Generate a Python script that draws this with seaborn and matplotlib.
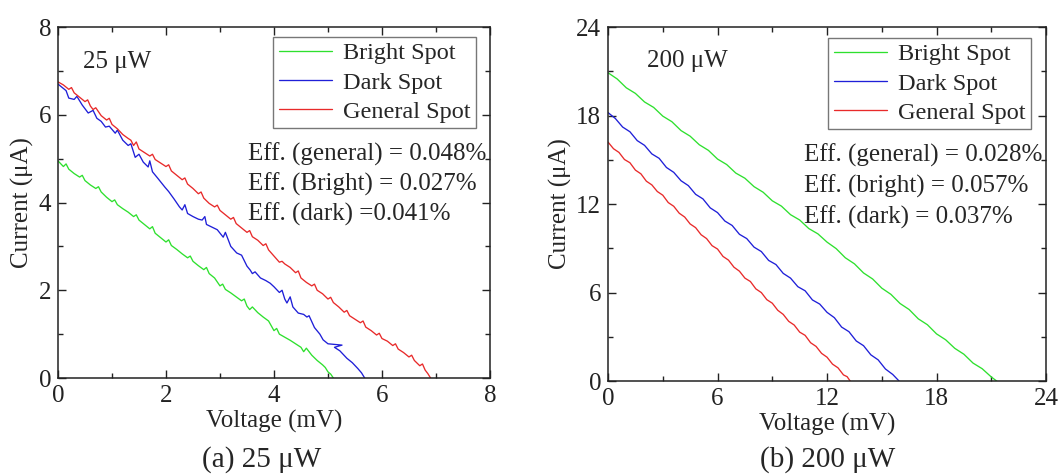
import matplotlib
matplotlib.use("Agg")
import matplotlib.pyplot as plt
import seaborn as sns
import pandas as pd
from matplotlib.ticker import MultipleLocator

# ---------------- data: panel (a) 25 uW ----------------
a_bright_v = [0.00, 0.10, 0.15, 0.20, 0.30, 0.40, 0.45, 0.50, 0.60, 0.70, 0.75, 0.80, 0.90, 1.00,
              1.05, 1.10, 1.20, 1.30, 1.40, 1.45, 1.50, 1.60, 1.70, 1.75, 1.80, 1.90, 2.00, 2.05,
              2.10, 2.20, 2.30, 2.40, 2.45, 2.50, 2.60, 2.70, 2.75, 2.80, 2.90, 3.00, 3.05, 3.10,
              3.20, 3.30, 3.40, 3.45, 3.50, 3.55, 3.60, 3.70, 3.80, 3.90, 4.00, 4.05, 4.10, 4.20,
              4.30, 4.40, 4.50, 4.55, 4.60, 4.70, 4.80, 4.90, 4.95, 5.00, 5.05, 5.10]
a_bright_i = [4.95, 4.82, 4.88, 4.76, 4.66, 4.58, 4.62, 4.50, 4.40, 4.32, 4.36, 4.24, 4.12, 4.02,
              4.06, 3.95, 3.86, 3.78, 3.68, 3.72, 3.60, 3.50, 3.40, 3.45, 3.30, 3.20, 3.10, 3.15,
              3.02, 2.93, 2.83, 2.74, 2.78, 2.66, 2.56, 2.47, 2.52, 2.38, 2.28, 2.10, 2.14, 2.02,
              1.94, 1.85, 1.76, 1.80, 1.64, 1.56, 1.62, 1.49, 1.39, 1.30, 1.08, 1.13, 1.00, 0.93,
              0.86, 0.78, 0.70, 0.60, 0.68, 0.52, 0.40, 0.30, 0.24, 0.14, 0.09, 0.00]

a_dark_v = [0.00, 0.10, 0.15, 0.20, 0.30, 0.35, 0.45, 0.56, 0.65, 0.72, 0.80, 0.88, 0.95, 1.06,
            1.10, 1.20, 1.30, 1.35, 1.43, 1.50, 1.58, 1.67, 1.70, 1.75, 1.85, 1.98, 2.05, 2.15,
            2.25, 2.30, 2.35, 2.40, 2.50, 2.60, 2.67, 2.72, 2.75, 2.85, 2.95, 3.06, 3.10, 3.20,
            3.31, 3.40, 3.50, 3.56, 3.60, 3.65, 3.75, 3.85, 3.93, 4.00, 4.10, 4.15, 4.20, 4.24,
            4.30, 4.35, 4.45, 4.55, 4.61, 4.65, 4.75, 4.85, 4.91, 5.00, 5.26, 5.12, 5.22, 5.35,
            5.45, 5.55, 5.62, 5.68]
a_dark_i = [6.70, 6.60, 6.55, 6.38, 6.35, 6.42, 6.22, 6.04, 6.10, 5.92, 5.85, 5.72, 5.74, 5.58,
            5.65, 5.42, 5.30, 5.34, 5.03, 5.10, 4.92, 4.81, 4.95, 4.70, 4.55, 4.35, 4.25, 4.08,
            3.90, 3.83, 3.95, 3.75, 3.68, 3.62, 3.60, 3.68, 3.50, 3.44, 3.38, 3.21, 3.32, 3.00,
            2.85, 2.80, 2.55, 2.46, 2.38, 2.42, 2.28, 2.22, 2.16, 2.08, 1.95, 2.00, 1.80, 1.71,
            1.85, 1.62, 1.48, 1.45, 1.39, 1.42, 1.15, 1.00, 0.87, 0.78, 0.75, 0.70, 0.62, 0.45,
            0.35, 0.22, 0.12, 0.00]

a_gen_v = [0.00, 0.10, 0.20, 0.25, 0.30, 0.40, 0.50, 0.55, 0.60, 0.65, 0.70, 0.80, 0.90, 0.95,
           1.00, 1.10, 1.20, 1.30, 1.35, 1.40, 1.45, 1.50, 1.60, 1.70, 1.75, 1.80, 1.90, 2.00,
           2.05, 2.10, 2.20, 2.30, 2.35, 2.40, 2.50, 2.60, 2.65, 2.70, 2.80, 2.90, 2.95, 3.00,
           3.10, 3.20, 3.25, 3.30, 3.40, 3.50, 3.55, 3.60, 3.70, 3.80, 3.85, 3.90, 4.00, 4.10,
           4.15, 4.20, 4.30, 4.40, 4.45, 4.50, 4.60, 4.70, 4.75, 4.80, 4.90, 5.00, 5.05, 5.10,
           5.20, 5.30, 5.35, 5.40, 5.50, 5.60, 5.65, 5.70, 5.80, 5.90, 5.95, 6.00, 6.10, 6.20,
           6.25, 6.30, 6.40, 6.50, 6.55, 6.60, 6.70, 6.75, 6.80, 6.85, 6.90]
a_gen_i = [6.75, 6.68, 6.58, 6.62, 6.50, 6.40, 6.30, 6.34, 6.20, 6.12, 6.16, 5.98, 5.88, 5.92,
           5.78, 5.68, 5.55, 5.46, 5.42, 5.30, 5.38, 5.22, 5.14, 5.06, 5.10, 4.98, 4.90, 4.82,
           4.86, 4.72, 4.62, 4.52, 4.56, 4.42, 4.32, 4.20, 4.24, 4.10, 3.98, 3.90, 3.94, 3.82,
           3.72, 3.62, 3.66, 3.52, 3.42, 3.32, 3.36, 3.22, 3.14, 3.02, 3.06, 2.92, 2.78, 2.64,
           2.66, 2.60, 2.52, 2.40, 2.44, 2.28, 2.18, 2.10, 2.14, 2.00, 1.92, 1.80, 1.84, 1.72,
           1.62, 1.50, 1.54, 1.42, 1.34, 1.26, 1.30, 1.16, 1.08, 0.98, 1.02, 0.90, 0.84, 0.74,
           0.78, 0.66, 0.58, 0.48, 0.52, 0.40, 0.28, 0.32, 0.18, 0.10, 0.00]

# ---------------- data: panel (b) 200 uW ----------------
b_bright_v = [0.0, 0.5, 1.0, 1.5, 2.0, 2.5, 3.0, 3.5, 4.0, 4.5, 5.0, 5.5, 6.0, 6.5, 7.0, 7.5,
              8.0, 8.5, 9.0, 9.5, 10.0, 10.5, 11.0, 11.5, 12.0, 12.5, 13.0, 13.5, 14.0, 14.5,
              15.0, 15.5, 16.0, 16.5, 17.0, 17.5, 18.0, 18.5, 19.0, 19.5, 20.0, 20.5, 21.0, 21.3]
b_bright_i = [20.90, 20.48, 19.88, 19.50, 18.92, 18.55, 17.96, 17.58, 16.98, 16.60, 16.02,
              15.64, 15.05, 14.68, 14.10, 13.75, 13.18, 12.80, 12.22, 11.86, 11.28, 10.92,
              10.34, 9.98, 9.42, 8.98, 8.36, 7.95, 7.33, 6.92, 6.30, 5.88, 5.26, 4.85, 4.22,
              3.82, 3.20, 2.80, 2.22, 1.82, 1.22, 0.84, 0.28, 0.00]

b_dark_v = [0.0, 0.4, 0.8, 1.2, 1.6, 2.0, 2.4, 2.8, 3.2, 3.6, 4.0, 4.4, 4.8, 5.2, 5.6, 6.0,
            6.4, 6.8, 7.2, 7.6, 8.0, 8.4, 8.8, 9.2, 9.6, 10.0, 10.4, 10.8, 11.2, 11.6, 12.0,
            12.4, 12.8, 13.2, 13.6, 14.0, 14.4, 14.8, 15.2, 15.6, 15.95]
b_dark_i = [18.20, 17.80, 17.22, 16.90, 16.30, 15.98, 15.40, 15.10, 14.48, 14.15, 13.58,
            13.25, 12.66, 12.35, 11.74, 11.42, 10.85, 10.55, 9.95, 9.66, 9.08, 8.78, 8.18,
            7.90, 7.30, 6.98, 6.40, 6.12, 5.50, 5.22, 4.66, 4.30, 3.66, 3.35, 2.72, 2.40,
            1.78, 1.44, 0.82, 0.45, 0.00]

b_gen_v = [0.0, 0.3, 0.6, 0.9, 1.2, 1.5, 1.8, 2.1, 2.4, 2.7, 3.0, 3.3, 3.6, 3.9, 4.2, 4.5,
           4.8, 5.1, 5.4, 5.7, 6.0, 6.3, 6.6, 6.9, 7.2, 7.5, 7.8, 8.1, 8.4, 8.7, 9.0, 9.3,
           9.6, 9.9, 10.2, 10.5, 10.8, 11.1, 11.4, 11.7, 12.0, 12.3, 12.6, 12.9, 13.1, 13.27]
b_gen_i = [16.20, 15.75, 15.50, 15.02, 14.80, 14.30, 14.05, 13.55, 13.30, 12.85, 12.60,
           12.10, 11.85, 11.38, 11.12, 10.65, 10.40, 9.92, 9.66, 9.18, 8.95, 8.45, 8.20,
           7.72, 7.45, 6.98, 6.75, 6.25, 6.00, 5.52, 5.28, 4.80, 4.52, 4.05, 3.80, 3.32,
           3.10, 2.60, 2.35, 1.88, 1.62, 1.15, 0.90, 0.42, 0.30, 0.00]

series_names = ["Bright Spot", "Dark Spot", "General Spot"]
colors = ["#2ee02e", "#1f1fd8", "#e82a2a"]

panel_a = {"Bright Spot": (a_bright_v, a_bright_i),
           "Dark Spot": (a_dark_v, a_dark_i),
           "General Spot": (a_gen_v, a_gen_i)}
panel_b = {"Bright Spot": (b_bright_v, b_bright_i),
           "Dark Spot": (b_dark_v, b_dark_i),
           "General Spot": (b_gen_v, b_gen_i)}

eff_a = ["Eff. (general) = 0.048%", "Eff. (Bright) = 0.027%", "Eff. (dark) =0.041%"]
eff_b = ["Eff. (general) = 0.028%", "Eff. (bright) = 0.057%", "Eff. (dark) = 0.037%"]


def to_df(panel):
    rows = []
    for name in series_names:
        v, i = panel[name]
        for k, (vv, ii) in enumerate(zip(v, i)):
            rows.append({"Voltage": vv, "Current": ii, "Series": name, "order": k})
    return pd.DataFrame(rows)


sns.set_theme(style="ticks")
plt.rcParams["font.family"] = ["Liberation Serif", "DejaVu Serif"]

FS = 18
fig = plt.figure(figsize=(10.58, 4.74), dpi=100)
ax1 = fig.add_axes([0.0548, 0.2025, 0.4083, 0.7405])
ax2 = fig.add_axes([0.5747, 0.196, 0.414, 0.747])

configs = [
    (ax1, panel_a, 8, 2, 1, "25 μW", (0.46, 7.2), eff_a, (3.52, [5.1, 4.42, 3.74]), (0.968, 0.972)),
    (ax2, panel_b, 24, 6, 3, "200 μW", (2.14, 21.7), eff_b, (10.74, [15.3, 13.2, 11.1]), (0.966, 0.969)),
]

for ax, panel, lim, major, minor, ptxt, ppos, effs, epos, lpos in configs:
    df = to_df(panel)
    sns.lineplot(data=df, x="Voltage", y="Current", hue="Series", hue_order=series_names,
                 palette=colors, units="Series", estimator=None, sort=False,
                 linewidth=0.95, ax=ax)
    ax.set_xlim(0, lim)
    ax.set_ylim(0, lim)
    ax.xaxis.set_major_locator(MultipleLocator(major))
    ax.yaxis.set_major_locator(MultipleLocator(major))
    ax.xaxis.set_minor_locator(MultipleLocator(minor))
    ax.yaxis.set_minor_locator(MultipleLocator(minor))
    ax.tick_params(which="both", direction="in", top=True, right=True, colors="#222222",
                   labelsize=FS, width=1.0)
    ax.tick_params(which="major", length=6, pad=5)
    ax.tick_params(which="minor", length=3.5)
    for s in ax.spines.values():
        s.set_visible(True)
        s.set_linewidth(1.1)
        s.set_color("#222222")
    ax.set_xlabel("Voltage (mV)", fontsize=FS, labelpad=2)
    ax.set_ylabel("Current (μA)", fontsize=FS, labelpad=3)
    ax.text(ppos[0], ppos[1], ptxt, fontsize=FS, va="center", ha="left")
    for t, yy in zip(effs, epos[1]):
        ax.text(epos[0], yy, t, fontsize=FS, va="center", ha="left", clip_on=False)
    h, l = ax.get_legend_handles_labels()
    ax.legend(h, l, loc="upper right", bbox_to_anchor=lpos, borderaxespad=0,
              frameon=True, fancybox=False, edgecolor="#777777", framealpha=1,
              fontsize=17.5, handlelength=2.2, handletextpad=0.45, labelspacing=0.3,
              borderpad=0.22)
    ax.legend_.get_frame().set_linewidth(1.0)

fig.text(0.2476, 0.0295, "(a) 25 μW", fontsize=21, ha="center", va="center")
fig.text(0.782, 0.0295, "(b) 200 μW", fontsize=21, ha="center", va="center")

fig.savefig("out.png", dpi=100)
